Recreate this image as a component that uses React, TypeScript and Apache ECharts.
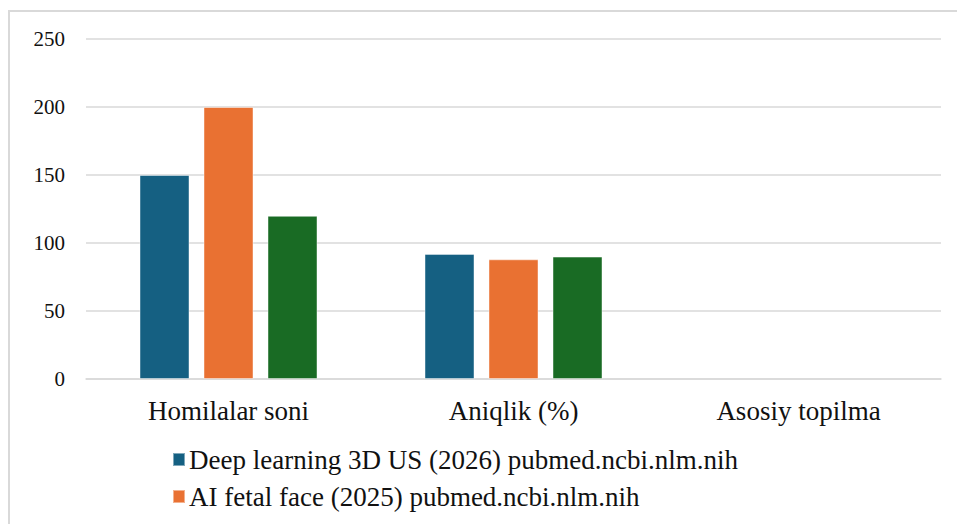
import React, { useEffect, useRef } from "react";
import * as echarts from "echarts";

const categories = ["Homilalar soni", "Aniqlik (%)", "Asosiy topilma"];
const seriesNames = [
  "Deep learning 3D US (2026) pubmed.ncbi.nlm.nih",
  "AI fetal face (2025) pubmed.ncbi.nlm.nih",
  "Uchinchi tadqiqot",
];
const deepLearning = [150, 92, null];
const aiFetalFace = [200, 88, null];
const thirdStudy = [120, 90, null];
const yTicks = { min: 0, max: 250, interval: 50 };
const colors = ["#156082", "#E97132", "#196B24"];

const FONT = "Liberation Serif";

export default function App() {
  const ref = useRef<HTMLDivElement>(null);
  useEffect(() => {
    if (!ref.current) return;
    const chart = echarts.init(ref.current, undefined, { renderer: "svg" });
    const values = [deepLearning, aiFetalFace, thirdStudy];
    chart.setOption({
      animation: false,
      backgroundColor: "#ffffff",
      textStyle: { fontFamily: FONT },
      grid: { left: 86, right: 16, top: 39, bottom: 145, containLabel: false },
      graphic: [
        {
          type: "rect",
          shape: { x: 9, y: 11, width: 980, height: 540 },
          style: { fill: "none", stroke: "#d9d9d9", lineWidth: 2 },
          silent: true,
        },
      ],
      legend: {
        data: seriesNames.slice(0, 2),
        orient: "vertical",
        left: 172,
        top: 446,
        padding: 0,
        itemWidth: 12,
        itemHeight: 13,
        itemGap: 10,
        icon: "rect",
        textStyle: { fontFamily: FONT, fontSize: 27, color: "#111111", lineHeight: 27, padding: [0, 0, 0, -1] },
      },
      xAxis: {
        type: "category",
        data: categories,
        axisLine: { lineStyle: { color: "#d9d9d9", width: 1.5 } },
        axisTick: { show: false },
        axisLabel: { fontFamily: FONT, fontSize: 27, color: "#111111", margin: 18, lineHeight: 27 },
      },
      yAxis: {
        type: "value",
        min: yTicks.min,
        max: yTicks.max,
        interval: yTicks.interval,
        axisLine: { show: false },
        axisTick: { show: false },
        axisLabel: { fontFamily: FONT, fontSize: 21, color: "#111111", margin: 21 },
        splitLine: { lineStyle: { color: "#d9d9d9", width: 1.5 } },
      },
      series: values.map((d, i) => ({
        name: seriesNames[i],
        type: "bar",
        data: d,
        barWidth: 50,
        barGap: "28%",
        itemStyle: { color: colors[i], borderColor: "rgba(255,255,255,0.45)", borderWidth: 1 },
      })),
    });
    return () => chart.dispose();
  }, []);
  return (
    <div
      ref={ref}
      style={{ position: "fixed", left: 0, top: 0, width: 957, height: 524 }}
    />
  );
}
